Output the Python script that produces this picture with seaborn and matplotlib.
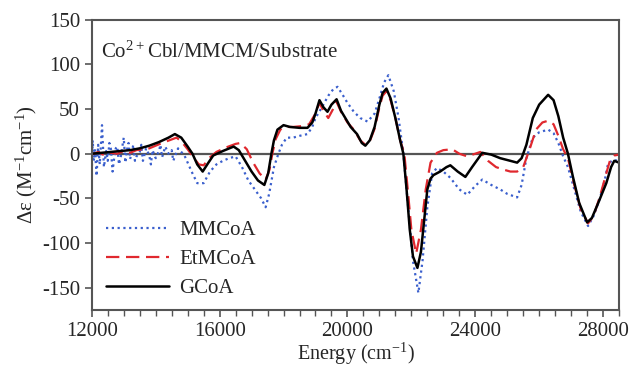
import numpy as np
import pandas as pd
import matplotlib
matplotlib.use("Agg")
import matplotlib.pyplot as plt
import seaborn as sns

# energies (cm^-1) and delta epsilon values
gcoa_x = [12000, 12300, 12600, 12900, 13200, 13500, 13800, 14100, 14400, 14600,
          14800, 15000, 15150, 15300, 15470, 15650, 15800, 16100, 16440, 16600,
          16800, 17000, 17200, 17400, 17520, 17620, 17700, 17810, 18000, 18200,
          18500, 18750, 18900, 19000, 19125, 19250, 19375, 19500, 19660, 19800,
          20000, 20100, 20300, 20450, 20560, 20700, 20850, 21000, 21100, 21220,
          21350, 21500, 21650, 21750, 21850, 21950, 22050, 22190, 22300, 22400,
          22500, 22600, 22690, 22900, 23100, 23220, 23450, 23690, 23900, 24220,
          24500, 24780, 25100, 25310, 25450, 25600, 25800, 26000, 26280, 26450,
          26600, 26750, 26900, 27050, 27250, 27500, 27650, 27850, 28100, 28250,
          28350, 28500]
gcoa_y = [0, 1, 2, 3, 4, 6, 9, 13, 18, 22,
          18, 8, 0, -12, -20, -10, -2, 3, 8, 4,
          -8, -20, -30, -35, -22, 0, 15, 27, 32, 30,
          29, 29, 35, 45, 60, 52, 47, 55, 61, 48,
          36, 30, 22, 12, 9, 15, 30, 55, 68, 73,
          62, 40, 15, 0, -40, -85, -115, -128, -110, -75,
          -40, -28, -24, -20, -15, -13, -20, -26, -15, 1,
          -1, -5, -8, -10, -5, 10, 40, 55, 66, 60,
          42, 18, 0, -25, -55, -77, -72, -55, -33, -15,
          -8, -10]

etm_x = [12000, 12200, 12400, 12600, 12800, 13000, 13200, 13400, 13600, 13800,
         14000, 14200, 14500, 14650, 14800, 15000, 15200, 15350, 15500, 15700,
         15900, 16200, 16500, 16650, 16850, 17050, 17250, 17440, 17560, 17650,
         17750, 17900, 18050, 18300, 18600, 18800, 19000, 19125, 19250, 19400,
         19550, 19660, 19800, 20000, 20200, 20400, 20560, 20700, 20850, 21000,
         21100, 21220, 21350, 21500, 21650, 21780, 21900, 22000, 22150, 22300,
         22450, 22600, 22800, 23000, 23280, 23500, 23750, 24000, 24160, 24400,
         24650, 24900, 25100, 25310, 25500, 25700, 25900, 26100, 26280, 26450,
         26600, 26750, 26900, 27100, 27300, 27530, 27700, 27900, 28100, 28220,
         28350, 28500]
etm_y = [-1, 2, -2, 1, 0, 3, 1, 4, 5, 6,
         9, 12, 16, 18, 14, 5, -5, -12, -13, -4,
         2, 7, 11, 12, 5, -10, -22, -29, -18, 0,
         16, 27, 30, 30, 31, 33, 45, 57, 48, 40,
         50, 58, 47, 35, 27, 15, 10, 14, 28, 52,
         65, 70, 60, 40, 15, 0, -45, -85, -112, -85,
         -40, -10, 1, 4, 5, 0, -3, 0, 2, -8,
         -15, -18, -20, -20, -15, 5, 27, 35, 37, 33,
         20, 5, -5, -35, -62, -78, -70, -48, -22, -7,
         -2, -1]

mm_x = [12000, 12030, 12060, 12100, 12150, 12200, 12250, 12320, 12380, 12450,
        12500, 12550, 12600, 12650, 12700, 12750, 12800, 12850, 12900, 13000,
        13050, 13100, 13150, 13200, 13300, 13350, 13400, 13500, 13550, 13600,
        13700, 13800, 13850, 13900, 14000, 14100, 14150, 14200, 14300, 14400,
        14500, 14550, 14600, 14700, 14800, 14900, 15000, 15150, 15300, 15500,
        15700, 15900, 16100, 16300, 16500, 16700, 16900, 17100, 17300, 17440,
        17550, 17700, 17840, 17950, 18100, 18300, 18500, 18750, 18900, 19000,
        19200, 19400, 19550, 19690, 19850, 20000, 20200, 20400, 20630, 20850,
        21000, 21150, 21280, 21450, 21600, 21750, 21900, 22050, 22220, 22350,
        22500, 22650, 22800, 23000, 23220, 23500, 23750, 24000, 24220, 24500,
        24780, 25000, 25310, 25450, 25600, 25800, 26000, 26280, 26450, 26600,
        26750, 26900, 27100, 27300, 27530, 27700, 27900, 28050, 28150, 28300,
        28500]
mm_y = [-20, 15, -8, 5, -25, 10, -12, 32, -15, 3,
        -8, 12, 5, -20, -5, 6, 8, -12, -5, 18,
        -10, 4, 12, -6, 10, -8, -3, 2, 10, -8,
        6, -2, -12, 4, -5, 3, 10, -4, 8, 0,
        4, -8, -3, 6, 2, -2, -10, -22, -33, -33,
        -20, -12, -8, -5, -3, -15, -30, -40, -50, -60,
        -45, -15, 0, 10, 18, 18, 20, 22, 30, 40,
        52, 65, 72, 75, 66, 57, 47, 40, 36, 45,
        62, 80, 88, 70, 40, 0, -60, -120, -156, -120,
        -60, -22, -16, -20, -27, -40, -46, -36, -29, -35,
        -40, -45, -49, -35, -5, 18, 24, 27, 23, 12,
        -3, -15, -40, -65, -81, -70, -50, -30, -12, -7,
        -8]

sns.set_style("ticks")
plt.rcParams['font.family'] = ['Liberation Serif', 'DejaVu Serif']
plt.rcParams['mathtext.fontset'] = 'custom'
plt.rcParams['mathtext.rm'] = 'Liberation Serif'
plt.rcParams['mathtext.default'] = 'regular'
plt.rcParams['axes.unicode_minus'] = False

fig = plt.figure(figsize=(6.33, 3.68), dpi=100)
ax = fig.add_axes([0.145, 0.158, 0.833, 0.788])

ax.axhline(0, color='#555555', lw=1.6, zorder=1)

mm = pd.DataFrame({'x': mm_x, 'y': mm_y})
et = pd.DataFrame({'x': etm_x, 'y': etm_y})
gc = pd.DataFrame({'x': gcoa_x, 'y': gcoa_y})

sns.lineplot(data=mm, x='x', y='y', ax=ax, color='#3a5fcd', lw=1.6,
             linestyle=(0, (1, 1.6)), label='MMCoA', sort=False)
sns.lineplot(data=et, x='x', y='y', ax=ax, color='#e0282e', lw=1.6,
             linestyle=(0, (6, 3)), label='EtMCoA', sort=False)
sns.lineplot(data=gc, x='x', y='y', ax=ax, color='black', lw=1.8,
             label='GCoA', sort=False)

ax.set_xlim(12000, 28500)
ax.set_ylim(-175, 150)
ax.set_xticks([12000, 16000, 20000, 24000, 28000])
ax.set_xticks(np.arange(12000, 28501, 500), minor=True)
ax.set_yticks([-150, -100, -50, 0, 50, 100, 150])
ax.tick_params(axis='both', which='major', labelsize=15, direction='out',
               length=5, width=1.2, color='#555555')
ax.tick_params(axis='x', which='minor', direction='out', length=4, width=1.0,
               color='#555555')
for s in ax.spines.values():
    s.set_color('#555555')
    s.set_linewidth(1.5)

ax.set_xlabel('Energy (cm$^{-1}$)', fontsize=14.5, labelpad=0)
ax.set_ylabel('Δε (M$^{-1}$cm$^{-1}$)', fontsize=15, labelpad=2)

ax.text(0.018, 0.87, 'Co$^{2+}$Cbl/MMCM/Substrate', transform=ax.transAxes,
        fontsize=15, ha='left', va='baseline')

ax.legend(loc='lower left', bbox_to_anchor=(0.0, -0.01), frameon=False,
          fontsize=15, handlelength=3.0, handletextpad=0.5, labelspacing=0.45,
          borderaxespad=0.3)

fig.savefig('out.png', dpi=100)
